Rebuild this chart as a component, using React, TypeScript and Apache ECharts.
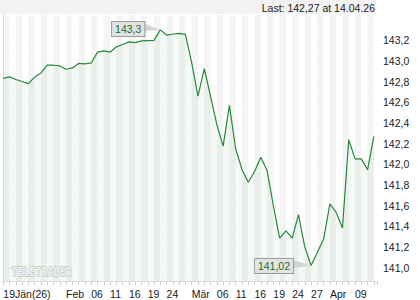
import React, { useEffect, useRef } from "react";
import * as echarts from "echarts";

// trading days (dd.mm.yy)
const dates: string[] = [
  "19.01.26", "20.01.26", "21.01.26", "22.01.26", "23.01.26",
  "26.01.26", "27.01.26", "28.01.26", "29.01.26", "30.01.26",
  "02.02.26", "03.02.26", "04.02.26", "05.02.26", "06.02.26",
  "09.02.26", "10.02.26", "11.02.26", "12.02.26", "13.02.26",
  "16.02.26", "17.02.26", "18.02.26", "19.02.26", "20.02.26",
  "23.02.26", "24.02.26", "25.02.26", "26.02.26", "27.02.26",
  "02.03.26", "03.03.26", "04.03.26", "05.03.26", "06.03.26",
  "09.03.26", "10.03.26", "11.03.26", "12.03.26", "13.03.26",
  "16.03.26", "17.03.26", "18.03.26", "19.03.26", "20.03.26",
  "23.03.26", "24.03.26", "25.03.26", "26.03.26", "27.03.26",
  "30.03.26", "31.03.26", "01.04.26", "02.04.26",
  "07.04.26", "08.04.26", "09.04.26", "10.04.26",
  "13.04.26", "14.04.26",
];

const prices: number[] = [
  142.83, 142.845, 142.82, 142.8, 142.78,
  142.845, 142.883, 142.958, 142.958, 142.951,
  142.919, 142.932, 142.975, 142.971, 142.98,
  143.085, 143.097, 143.084, 143.136, 143.159,
  143.184, 143.177, 143.194, 143.196, 143.198,
  143.3, 143.25, 143.26, 143.266, 143.256,
  142.98, 142.66, 142.926, 142.657, 142.383,
  142.175, 142.57, 142.15, 141.949, 141.825,
  141.929, 142.068, 141.939, 141.599, 141.285,
  141.356, 141.285, 141.512, 141.2, 141.02,
  141.146, 141.276, 141.616, 141.534,
  141.383, 142.237, 142.052, 142.052,
  141.946, 142.27,
];

const tickDates: string[] = [
  "19.01.26", "02.02.26", "06.02.26", "11.02.26", "16.02.26", "19.02.26", "24.02.26",
  "02.03.26", "06.03.26", "11.03.26", "16.03.26", "19.03.26", "24.03.26", "27.03.26",
  "01.04.26", "09.04.26",
];
const tickTexts: string[] = [
  "19Jän(26)", "Feb", "06", "11", "16", "19", "24",
  "Mär", "06", "11", "16", "19", "24", "27",
  "Apr", "09",
];

const yTickLabels: string[] = [
  "141,0", "141,2", "141,4", "141,6", "141,8", "142,0",
  "142,2", "142,4", "142,6", "142,8", "143,0", "143,2",
];

const FONT = '"Liberation Sans", Arial, sans-serif';

function fmtPrice(v: number): string {
  return String(parseFloat(v.toFixed(2))).replace(".", ",");
}

export default function App() {
  const ref = useRef<HTMLDivElement>(null);

  useEffect(() => {
    if (!ref.current) return;
    const chart = echarts.init(ref.current, null, { renderer: "svg" });
    const seriesData = prices.map((v, i) => [i, v]);
    const lastIdx = prices.length - 1;

    chart.setOption({
      animation: false,
      grid: { left: 3.3, right: 43, top: 15, bottom: 19, containLabel: false },
      xAxis: {
        type: "value",
        min: 0,
        max: 59.5,
        interval: 1,
        axisLine: { show: true, lineStyle: { color: "#dcdcdc", width: 1 } },
        axisTick: { show: true, length: 4, lineStyle: { color: "#cfcfcf" } },
        splitLine: { show: false },
        splitArea: { show: true, areaStyle: { color: ["#f4f4f4", "#ffffff"] } },
        axisLabel: {
          show: true,
          margin: 7,
          align: "left",
          fontFamily: FONT,
          fontSize: 10.5,
          color: "#1a1a1a",
          hideOverlap: false,
          showMinLabel: true,
          showMaxLabel: true,
          formatter: (v: number) => {
            if (!Number.isInteger(v)) return "";
            const d = dates[v];
            const k = tickDates.indexOf(d);
            return k >= 0 ? tickTexts[k] : "";
          },
        },
      },
      yAxis: {
        type: "value",
        position: "right",
        min: 140.87,
        max: 143.444,
        minInterval: 0.2,
        maxInterval: 0.2,
        scale: true,
        axisLine: { show: true, lineStyle: { color: "#dcdcdc", width: 1 } },
        axisTick: { show: false },
        splitLine: { show: true, lineStyle: { color: "#e3e3e3", width: 1 } },
        axisLabel: {
          margin: 6,
          fontFamily: FONT,
          fontSize: 10.5,
          color: "#222",
          formatter: (v: number) => {
            const s = v.toFixed(1).replace(".", ",");
            return yTickLabels.indexOf(s) >= 0 && Math.abs(v * 5 - Math.round(v * 5)) < 1e-6 ? s : "";
          },
        },
      },
      series: [
        {
          type: "line",
          data: seriesData,
          showSymbol: false,
          symbol: "none",
          lineStyle: { color: "#25893b", width: 1.2 },
          areaStyle: { color: "rgba(60,140,60,0.075)", origin: "start" },
          z: 3,
        },
      ],
    });

    const maxVal = Math.max(...prices);
    const minVal = Math.min(...prices);
    const maxIdx = prices.indexOf(maxVal);
    const minIdx = prices.indexOf(minVal);
    const pMax = chart.convertToPixel({ gridIndex: 0 }, [maxIdx, maxVal]) as number[];
    const pMin = chart.convertToPixel({ gridIndex: 0 }, [minIdx, minVal]) as number[];

    const callout = (p: number[], label: string, gap: number, dy: number) => {
      const bx = p[0] - gap;
      return [
        {
          type: "polygon",
          z: 100,
          shape: { points: [[bx - 1, p[1] - 6 + dy], [p[0], p[1]], [bx - 1, p[1] + 2 + dy]] },
          style: { fill: "#d2d2d2" },
        },
        {
          type: "text",
          z: 101,
          x: bx,
          y: p[1] + dy,
          style: {
            text: label,
            align: "right",
            verticalAlign: "middle",
            fontFamily: FONT,
            fontSize: 10.5,
            fill: "#17702c",
            backgroundColor: "#e3e3e3",
            borderColor: "#9c9c9c",
            borderWidth: 1,
            padding: [2, 3, 1, 3],
          },
        },
      ];
    };

    chart.setOption({
      graphic: [
        {
          type: "rect",
          z: 0,
          shape: { x: 0, y: 0, width: 376, height: 14 },
          style: { fill: "#f2f2f2" },
        },
        {
          type: "text",
          z: 10,
          x: 375,
          y: 7.5,
          style: {
            text: "Last: " + fmtPrice(prices[lastIdx]) + " at " + dates[lastIdx],
            align: "right",
            verticalAlign: "middle",
            fontFamily: FONT,
            fontSize: 10.5,
            fill: "#1a1a1a",
          },
        },
        {
          type: "text",
          z: 2,
          x: 11.5,
          y: 271.5,
          scaleY: 1.3,
          style: {
            text: "TELETRADER",
            align: "left",
            verticalAlign: "middle",
            fontFamily: '"DejaVu Sans Mono", monospace',
            fontWeight: "bold",
            fontSize: 10,
            fill: "#fbfbfb",
            stroke: "#b4b4b4",
            lineWidth: 0.8,
          },
        },
        ...callout(pMax, fmtPrice(maxVal), 16, -1),
        ...callout(pMin, fmtPrice(minVal), 18, 0.5),
      ],
    });

    return () => chart.dispose();
  }, []);

  return (
    <div
      ref={ref}
      style={{ position: "fixed", left: 0, top: 0, width: 420, height: 300, background: "#fff" }}
    />
  );
}
